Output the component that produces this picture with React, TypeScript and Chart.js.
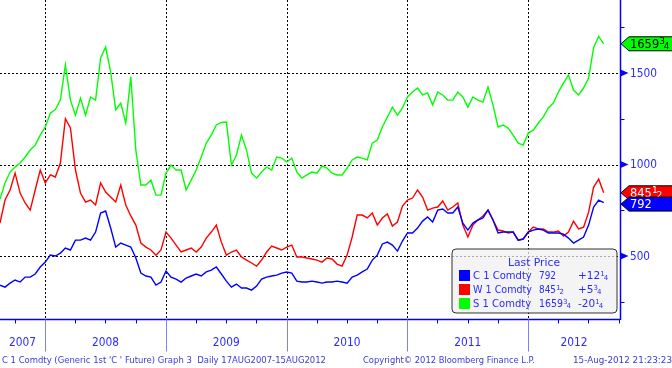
import React, { useEffect, useRef } from 'react';
import { Chart, registerables } from 'chart.js';

Chart.register(...registerables);

// ---- data (semi-monthly samples, 17 Aug 2007 – 15 Aug 2012) ----
const START = 2007.627;
const STEP = 1 / 24;
const DATES: number[] = Array.from({ length: 121 }, (_, i) => START + i * STEP);

const CORN = [
  341, 330, 352, 369, 358, 385, 385, 402, 440, 467,
  505, 500, 516, 544, 533, 587, 587, 598, 587, 631,
  735, 746, 653, 549, 571, 560, 549, 489, 407, 391,
  385, 341, 358, 418, 385, 374, 358, 380, 391, 402,
  391, 413, 423, 440, 402, 363, 330, 347, 325, 325,
  314, 336, 374, 385, 391, 396, 407, 413, 407, 363,
  358, 358, 363, 358, 352, 358, 358, 363, 358, 352,
  385, 396, 413, 429, 478, 505, 566, 576, 560, 527,
  582, 626, 626, 653, 691, 713, 686, 751, 757, 735,
  735, 768, 680, 642, 680, 697, 708, 751, 697, 626,
  631, 631, 631, 587, 593, 631, 642, 648, 642, 626,
  626, 626, 620, 598, 571, 587, 604, 669, 768, 806,
  792,
];

const WHEAT = [
  680, 806, 861, 953, 844, 790, 751, 861, 970, 899,
  943, 932, 1008, 1250, 1200, 970, 844, 795, 806, 779,
  899, 850, 822, 795, 888, 779, 719, 669, 571, 549,
  533, 505, 533, 631, 598, 560, 522, 533, 544, 522,
  549, 598, 631, 669, 576, 505, 522, 533, 495, 478,
  462, 445, 478, 522, 554, 544, 533, 549, 560, 495,
  495, 489, 484, 478, 467, 489, 484, 456, 445, 505,
  604, 724, 724, 708, 735, 669, 708, 730, 664, 686,
  773, 806, 817, 861, 822, 751, 762, 768, 801, 751,
  768, 790, 669, 604, 669, 697, 719, 751, 697, 642,
  637, 626, 631, 587, 593, 631, 658, 648, 648, 631,
  631, 637, 609, 631, 691, 648, 658, 740, 877, 920,
  845.5,
];

const SOY = [
  811, 899, 959, 986, 1008, 1041, 1079, 1106, 1161, 1205,
  1280, 1300, 1352, 1544, 1352, 1270, 1363, 1270, 1369, 1352,
  1582, 1642, 1505, 1298, 1336, 1227, 1480, 1079, 888, 888,
  915, 833, 833, 953, 997, 970, 970, 861, 915, 970,
  1041, 1117, 1161, 1216, 1230, 1232, 997, 1052, 1161, 1079,
  953, 926, 959, 986, 970, 1041, 1035, 1014, 1035, 959,
  926, 943, 959, 953, 992, 981, 953, 943, 943, 981,
  1025, 1041, 1035, 1025, 1117, 1134, 1205, 1260, 1314, 1270,
  1309, 1369, 1396, 1418, 1380, 1391, 1325, 1396, 1380, 1352,
  1352, 1396, 1369, 1314, 1369, 1352, 1341, 1423, 1325, 1205,
  1216, 1199, 1161, 1117, 1106, 1172, 1188, 1227, 1260, 1309,
  1336, 1396, 1445, 1489, 1407, 1380, 1418, 1473, 1640, 1700,
  1659.75,
];

const YEAR_LABELS = ['2007', '2008', '2009', '2010', '2011', '2012'];
const YEAR_BOUNDS = [2008, 2009, 2010, 2011, 2012];
const MAJOR_TICKS = [500, 1000, 1500];
const MINOR_TICKS = [250, 750, 1250, 1750];
const X_MIN = 2007.627;
const X_MAX = 2012.762;
const Y_MIN = 156;
const Y_MAX = 1899;

const SERIES_NAMES = ['C 1 Comdty', 'W 1 Comdty', 'S 1 Comdty'];
const SERIES_COLORS = ['#0000ff', '#ff0000', '#00ff00'];
const LAST_WHOLE = ['792', '845', '1659'];
const LAST_NUM = ['', '1', '3'];
const LAST_DEN = ['', '2', '4'];
const LAST_VALUE = [792, 845.5, 1659.75];
const CHG_WHOLE = ['+12', '+5', '-20'];
const CHG_NUM = ['1', '3', '1'];
const CHG_DEN = ['4', '4', '4'];

const FOOT_LEFT = "C 1 Comdty (Generic 1st 'C ' Future) Graph 3  Daily 17AUG2007-15AUG2012";
const FOOT_MID = 'Copyright\u00a9 2012 Bloomberg Finance L.P.';
const FOOT_RIGHT = '15-Aug-2012 21:23:23';

const FONT = '"DejaVu Sans", Verdana, sans-serif';
const AXIS_BLUE = '#0000ff';
const TEXT_BLUE = '#2b2bff';
const FOOT_BLUE = '#3a3ad8';

function drawFrac(
  ctx: CanvasRenderingContext2D,
  whole: string, num: string, den: string,
  x: number, y: number, size: number, color: string, maxW?: number
) {
  ctx.fillStyle = color;
  ctx.textAlign = 'left';
  ctx.textBaseline = 'middle';
  ctx.font = `${size}px ${FONT}`;
  let w = ctx.measureText(whole).width;
  if (maxW && w > maxW) {
    ctx.fillText(whole, x, y, maxW);
    w = maxW;
  } else {
    ctx.fillText(whole, x, y);
  }
  if (num) {
    const s = Math.round(size * 0.68);
    ctx.font = `${s}px ${FONT}`;
    ctx.fillText(num, x + w, y - size * 0.22);
    const nw = ctx.measureText(num).width;
    ctx.fillText(den, x + w + nw * 0.8, y + size * 0.22);
  }
}

const decoPlugin = {
  id: 'deco',
  beforeDatasetsDraw(chart: any) {
    const { ctx, chartArea: a, scales } = chart;
    const x = scales.x, y = scales.y;
    ctx.save();
    ctx.strokeStyle = '#000';
    ctx.lineWidth = 1;
    ctx.setLineDash([2, 2]);
    for (const v of MAJOR_TICKS) {
      const py = Math.round(y.getPixelForValue(v)) + 0.5;
      ctx.beginPath(); ctx.moveTo(a.left, py); ctx.lineTo(a.right, py); ctx.stroke();
    }
    for (const yr of YEAR_BOUNDS) {
      const px = Math.round(x.getPixelForValue(yr)) + 0.5;
      ctx.beginPath(); ctx.moveTo(px, a.top); ctx.lineTo(px, a.bottom); ctx.stroke();
    }
    ctx.restore();
  },
  afterDatasetsDraw(chart: any) {
    const { ctx, chartArea: a, scales } = chart;
    const x = scales.x, y = scales.y;
    ctx.save();
    ctx.setLineDash([]);

    // legend box (translucent)
    const lx = 452, ly = 249, lw = 165, lh = 64, r = 4;
    ctx.beginPath();
    ctx.moveTo(lx + r, ly);
    ctx.arcTo(lx + lw, ly, lx + lw, ly + lh, r);
    ctx.arcTo(lx + lw, ly + lh, lx, ly + lh, r);
    ctx.arcTo(lx, ly + lh, lx, ly, r);
    ctx.arcTo(lx, ly, lx + lw, ly, r);
    ctx.closePath();
    ctx.fillStyle = 'rgba(240,240,240,0.72)';
    ctx.fill();
    ctx.strokeStyle = '#333';
    ctx.lineWidth = 1;
    ctx.stroke();

    ctx.font = `11px ${FONT}`;
    ctx.fillStyle = TEXT_BLUE;
    ctx.textAlign = 'center';
    ctx.textBaseline = 'middle';
    ctx.fillText('Last Price', 534, 263, 52);
    for (let i = 0; i < 3; i++) {
      const ry = 276 + i * 14;
      ctx.fillStyle = SERIES_COLORS[i];
      ctx.fillRect(459, ry - 6, 11, 11);
      ctx.font = `10px ${FONT}`;
      ctx.fillStyle = TEXT_BLUE;
      ctx.textAlign = 'left';
      ctx.fillText(SERIES_NAMES[i], 473, ry, 59);
      drawFrac(ctx, LAST_WHOLE[i], LAST_NUM[i], LAST_DEN[i], 539, ry, 10.5, TEXT_BLUE, 7 * LAST_WHOLE[i].length - 4);
      drawFrac(ctx, CHG_WHOLE[i], CHG_NUM[i], CHG_DEN[i], 578, ry, 10.5, TEXT_BLUE);
    }

    // bottom axis
    const by = a.bottom + 0.5;
    ctx.strokeStyle = AXIS_BLUE;
    ctx.lineWidth = 1.5;
    ctx.beginPath(); ctx.moveTo(a.left, by); ctx.lineTo(a.right, by); ctx.stroke();
    ctx.lineWidth = 1;
    for (let q = 2007.75; q <= X_MAX + 1e-6; q += 0.25) {
      const px = Math.round(x.getPixelForValue(q)) + 0.5;
      ctx.beginPath(); ctx.moveTo(px, by); ctx.lineTo(px, by + 4); ctx.stroke();
    }
    ctx.strokeStyle = '#8080ff';
    for (const yr of YEAR_BOUNDS) {
      const px = Math.round(x.getPixelForValue(yr)) + 0.5;
      ctx.beginPath(); ctx.moveTo(px, by); ctx.lineTo(px, by + 32); ctx.stroke();
    }
    const edges = [a.left, ...YEAR_BOUNDS.map((yr) => x.getPixelForValue(yr)), a.right];
    ctx.font = `13px ${FONT}`;
    ctx.fillStyle = TEXT_BLUE;
    ctx.textAlign = 'center';
    ctx.textBaseline = 'middle';
    YEAR_LABELS.forEach((lab, i) => {
      ctx.fillText(lab, (edges[i] + edges[i + 1]) / 2, 343, 27);
    });

    // right axis
    const rx = a.right + 0.5;
    ctx.strokeStyle = AXIS_BLUE;
    ctx.lineWidth = 1.5;
    ctx.beginPath(); ctx.moveTo(rx, a.top); ctx.lineTo(rx, a.bottom + 1); ctx.stroke();
    ctx.lineWidth = 1;
    for (const v of MINOR_TICKS) {
      const py = Math.round(y.getPixelForValue(v)) + 0.5;
      ctx.beginPath(); ctx.moveTo(rx, py); ctx.lineTo(rx + 4, py); ctx.stroke();
    }
    for (const v of MAJOR_TICKS) {
      const py = y.getPixelForValue(v);
      ctx.fillStyle = AXIS_BLUE;
      ctx.beginPath();
      ctx.moveTo(rx, py - 3.5); ctx.lineTo(rx + 8, py); ctx.lineTo(rx, py + 3.5); ctx.closePath();
      ctx.fill();
      ctx.font = `13px ${FONT}`;
      ctx.fillStyle = TEXT_BLUE;
      ctx.textAlign = 'left';
      ctx.textBaseline = 'middle';
      ctx.fillText(String(v), a.right + 10, py + 0.5, 7 * String(v).length - 1);
    }

    // last-price tags: soy, wheat, corn (corn on top)
    const order = [2, 1, 0];
    const tagText = ['#ffffff', '#ffffff', '#000000'];
    for (const i of order) {
      const cy = y.getPixelForValue(LAST_VALUE[i]) + (i === 0 ? 1.5 : 0);
      const tx = a.right + 1;
      ctx.beginPath();
      ctx.moveTo(tx, cy);
      ctx.lineTo(tx + 8, cy - 7);
      ctx.lineTo(chart.width + 2, cy - 7);
      ctx.lineTo(chart.width + 2, cy + 7);
      ctx.lineTo(tx + 8, cy + 7);
      ctx.closePath();
      ctx.fillStyle = SERIES_COLORS[i];
      ctx.fill();
      ctx.strokeStyle = '#000';
      ctx.lineWidth = 1;
      ctx.stroke();
      drawFrac(ctx, LAST_WHOLE[i], LAST_NUM[i], LAST_DEN[i], tx + 9, cy + 0.5, 12.5, tagText[i], 7.3 * LAST_WHOLE[i].length);
    }

    // footer
    ctx.font = `9px ${FONT}`;
    ctx.fillStyle = FOOT_BLUE;
    ctx.textAlign = 'left';
    ctx.textBaseline = 'middle';
    ctx.fillText(FOOT_LEFT, 2, 361, 324);
    ctx.fillText(FOOT_MID, 363, 361, 172);
    ctx.fillText(FOOT_RIGHT, 573, 361, 99);

    ctx.restore();
  },
};

export default function App() {
  const ref = useRef<HTMLCanvasElement | null>(null);
  useEffect(() => {
    document.body.style.margin = '0';
    document.body.style.background = '#ffffff';
    const canvas = ref.current;
    if (!canvas) return;
    const mk = (vals: number[]) => DATES.map((d, i) => ({ x: d, y: vals[i] }));
    const chart = new Chart(canvas, {
      type: 'line',
      data: {
        datasets: [
          { label: 'C 1 Comdty', data: mk(CORN), borderColor: '#0000ff', borderWidth: 1.4, pointRadius: 0, tension: 0 },
          { label: 'W 1 Comdty', data: mk(WHEAT), borderColor: '#ff0000', borderWidth: 1.4, pointRadius: 0, tension: 0 },
          { label: 'S 1 Comdty', data: mk(SOY), borderColor: '#00ff00', borderWidth: 1.4, pointRadius: 0, tension: 0 },
        ],
      },
      options: {
        responsive: false,
        animation: false,
        devicePixelRatio: 1,
        layout: { padding: { left: 0, top: 0, right: 52, bottom: 49 } },
        scales: {
          x: { type: 'linear', min: X_MIN, max: X_MAX, display: false },
          y: { type: 'linear', min: Y_MIN, max: Y_MAX, display: false },
        },
        plugins: { legend: { display: false }, tooltip: { enabled: false } },
      },
      plugins: [decoPlugin],
    } as any);
    return () => chart.destroy();
  }, []);
  return (
    <div style={{ width: 672, height: 368, background: '#fff' }}>
      <canvas ref={ref} width={672} height={368} style={{ display: 'block' }} />
    </div>
  );
}
